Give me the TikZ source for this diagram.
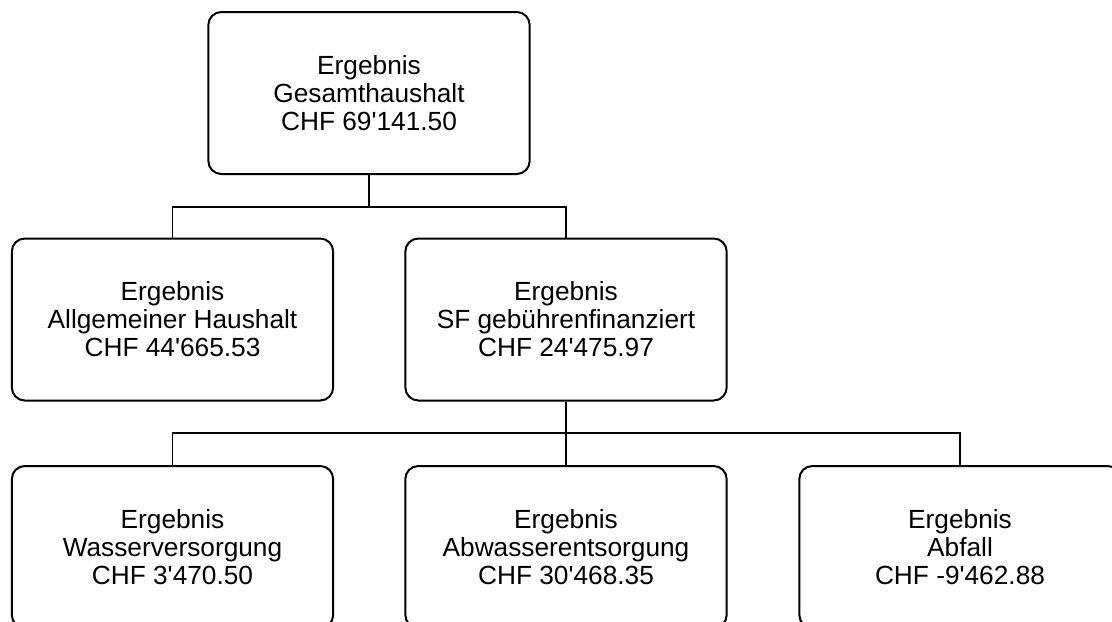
\documentclass[tikz,border=0pt]{standalone}
\usepackage{fontspec}
\setmainfont{Liberation Sans}
\newcommand{\aq}{\textquotesingle}
\begin{document}
\begin{tikzpicture}[x=0.75pt,y=-0.75pt,
  box/.style={draw, line width=1.5pt, rounded corners=9.75pt,
    minimum width=241pt, minimum height=121.5pt, align=center,
    inner sep=0pt, font=\fontsize{19.7}{21}\selectfont},
  stem/.style={line width=1.6pt},
  branch/.style={line width=1pt}]
\clip (0,0) rectangle (1112,621);
\node[box] (top) at (369,93)    {Ergebnis\\Gesamthaushalt\\CHF 69\aq141.50};
\node[box] (ml)  at (172.5,319.5) {Ergebnis\\Allgemeiner Haushalt\\CHF 44\aq665.53};
\node[box] (mr)  at (566,319.5)   {Ergebnis\\SF gebührenfinanziert\\CHF 24\aq475.97};
\node[box] (bl)  at (172.5,547)   {Ergebnis\\Wasserversorgung\\CHF 3\aq470.50};
\node[box] (bm)  at (566,547)     {Ergebnis\\Abwasserentsorgung\\CHF 30\aq468.35};
\node[box] (br)  at (960,547)     {Ergebnis\\Abfall\\CHF -9\aq462.88};
\coordinate (j1) at (369,207);
\coordinate (j2) at (566,433);
\draw[stem] (top.south) -- (j1);
\draw[branch] (ml.north) -- (ml.north |- j1) -- (mr.north |- j1) -- (mr.north);
\draw[stem] (mr.south) -- (j2);
\draw[branch] (bl.north) -- (bl.north |- j2) -- (br.north |- j2) -- (br.north);
\draw[branch] (j2) -- (bm.north);
\end{tikzpicture}
\end{document}
